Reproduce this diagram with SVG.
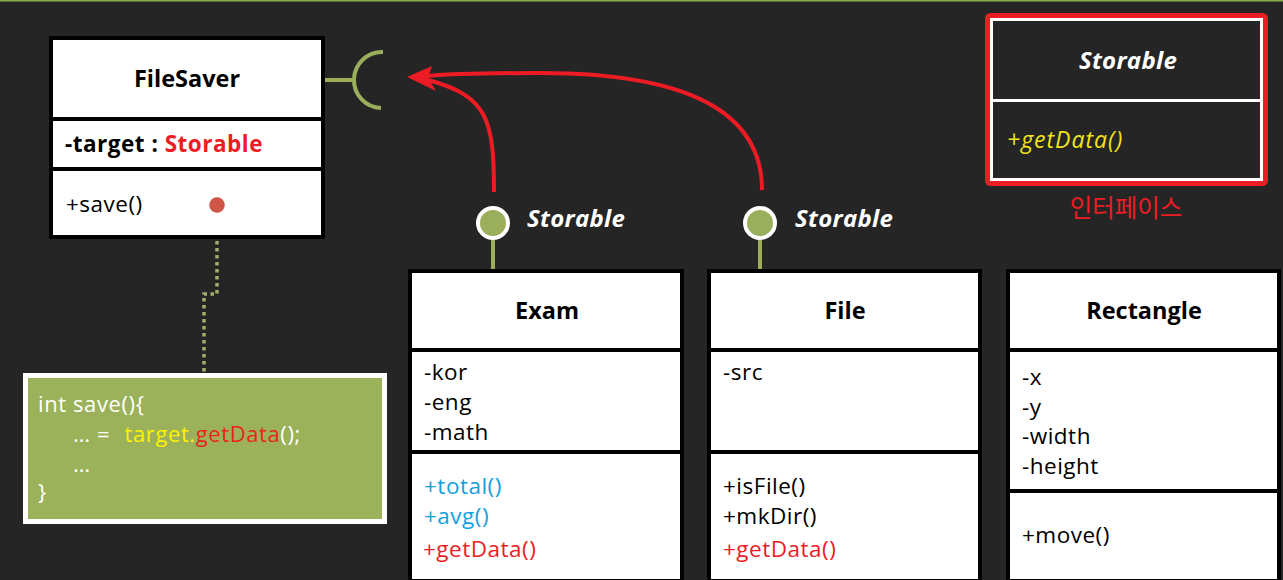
<svg xmlns="http://www.w3.org/2000/svg" width="1283" height="580" viewBox="0 0 1283 580">
<defs>
<style>
.bg{fill:#252525}
.box{fill:#ffffff;stroke:#000000;stroke-width:4}
.div{stroke:#000000;stroke-width:4}
.t{font-family:"Open Sans","Noto Sans",sans-serif;font-size:22.5px;letter-spacing:0.5px;fill:#000000}
.b{font-weight:bold;letter-spacing:0.5px}
.title{font-family:"Open Sans","Noto Sans",sans-serif;font-size:23.5px;font-weight:bold;fill:#000000;text-anchor:middle}
.lolli{font-family:"Open Sans","Noto Sans",sans-serif;font-size:24px;font-weight:bold;font-style:italic;fill:#ffffff;letter-spacing:0.3px}
.code{font-family:"Open Sans","Noto Sans",sans-serif;font-size:22px;letter-spacing:0.6px;fill:#ffffff}
.green{stroke:#9BAE5C;stroke-width:4;fill:none}
.red{fill:#ED1C24}
.blue{fill:#12A0DF}
.arrow{stroke:#ED1C24;stroke-width:4;fill:none}
</style>
</defs>
<rect class="bg" x="0" y="0" width="1283" height="580"/>
<line x1="0" y1="0.5" x2="1283" y2="0.5" stroke="#8FB050" stroke-width="2"/>

<g id="connectors">
<line class="green" x1="324" y1="80" x2="356" y2="80"/>
<path class="green" d="M383,52 A28,28 0 0 0 381,108"/>
<path class="arrow" d="M494,192 C494,120 488,96 428,80"/>
<path class="arrow" d="M762,190 C762,90 640,73 540,73 C480,73 450,74 428,76"/>
<path d="M407,77 L432,66 L428,78 L436,91 Z" fill="#ED1C24"/>
<line class="green" x1="493" y1="240" x2="493" y2="270"/>
<line class="green" x1="760" y1="240" x2="760" y2="270"/>
<path d="M217,213 V294 H204 V373" stroke="#A4AC6C" stroke-width="3.5" stroke-dasharray="3.5 3.5" fill="none"/>
</g>

<g id="filesaver">
<rect class="box" x="51" y="38" width="272" height="199"/>
<line class="div" x1="51" y1="119" x2="323" y2="119"/>
<line class="div" x1="51" y1="169" x2="323" y2="169"/>
<text class="title" x="187" y="87">FileSaver</text>
<text class="t b" x="65" y="152">-target : <tspan class="red">Storable</tspan></text>
<text class="t" x="66" y="212">+save()</text>
<circle cx="217" cy="205" r="9.5" fill="#CF5547" stroke="#ffffff" stroke-width="3.5"/>
</g>

<g id="code-note">
<rect x="25.5" y="375.5" width="359" height="146" fill="#9BB15A" stroke="#ffffff" stroke-width="5"/>
<text class="code" x="38" y="412">int save(){</text>
<text class="code" x="73" y="442">… = <tspan dx="8" fill="#FFF200">target.</tspan><tspan fill="#E8261C">getData</tspan>();</text>
<text class="code" x="73" y="472">…</text>
<text class="code" x="38" y="500">}</text>
</g>

<g id="lollipop-exam">
<circle cx="493" cy="223" r="15" fill="#9BAE5C" stroke="#ffffff" stroke-width="4"/>
<text class="lolli" x="527" y="227">Storable</text>
</g>
<g id="lollipop-file">
<circle cx="760" cy="223" r="15" fill="#9BAE5C" stroke="#ffffff" stroke-width="4"/>
<text class="lolli" x="795" y="227">Storable</text>
</g>

<g id="storable">
<rect x="987.5" y="15.5" width="278" height="168" rx="3" fill="none" stroke="#ED1C24" stroke-width="5"/>
<rect x="991.5" y="19.5" width="270" height="160" fill="#252525" stroke="#ffffff" stroke-width="3"/>
<line x1="991" y1="100.5" x2="1262" y2="100.5" stroke="#ffffff" stroke-width="3"/>
<text class="lolli" x="1128" y="69" text-anchor="middle">Storable</text>
<text x="1007" y="148" font-family="'Open Sans','Noto Sans',sans-serif" font-size="23" letter-spacing="1" font-style="italic" fill="#F2E41A">+getData()</text>
<text x="1126" y="217" font-family="'Noto Sans CJK KR',sans-serif" font-size="24.5" fill="#ED1C24" text-anchor="middle">인터페이스</text>
</g>

<g id="exam">
<rect class="box" x="410" y="271" width="272" height="310"/>
<line class="div" x1="410" y1="350" x2="682" y2="350"/>
<line class="div" x1="410" y1="452" x2="682" y2="452"/>
<text class="title" x="547" y="319">Exam</text>
<text class="t" x="424" y="380">-kor</text>
<text class="t" x="424" y="410">-eng</text>
<text class="t" x="424" y="440">-math</text>
<text class="t blue" x="424" y="494">+total()</text>
<text class="t blue" x="424" y="524">+avg()</text>
<text class="t red" x="423" y="557">+getData()</text>
</g>

<g id="file">
<rect class="box" x="709" y="271" width="271" height="310"/>
<line class="div" x1="709" y1="350" x2="980" y2="350"/>
<line class="div" x1="709" y1="452" x2="980" y2="452"/>
<text class="title" x="845" y="319">File</text>
<text class="t" x="723" y="380">-src</text>
<text class="t" x="723" y="494">+isFile()</text>
<text class="t" x="723" y="524">+mkDir()</text>
<text class="t red" x="723" y="557">+getData()</text>
</g>

<g id="rectangle">
<rect class="box" x="1008" y="271" width="271" height="310"/>
<line class="div" x1="1008" y1="350" x2="1279" y2="350"/>
<line class="div" x1="1008" y1="491" x2="1279" y2="491"/>
<text class="title" x="1144" y="319">Rectangle</text>
<text class="t" x="1022" y="385">-x</text>
<text class="t" x="1022" y="415">-y</text>
<text class="t" x="1022" y="444">-width</text>
<text class="t" x="1022" y="474">-height</text>
<text class="t" x="1022" y="543">+move()</text>
</g>
</svg>
